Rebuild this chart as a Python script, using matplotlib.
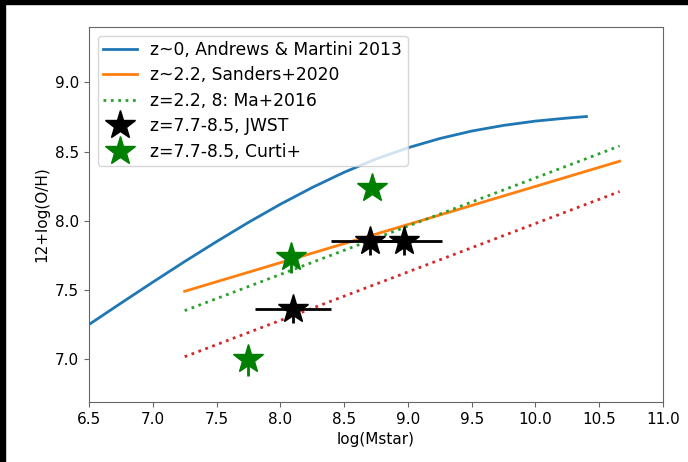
import matplotlib
matplotlib.use("Agg")
import matplotlib.pyplot as plt
from matplotlib.patches import Rectangle

# z~0 Andrews & Martini 2013
am_x = [6.5, 6.75, 7.0, 7.25, 7.5, 7.75, 8.0, 8.25, 8.5, 8.75, 9.0, 9.25, 9.5, 9.75, 10.0, 10.25, 10.4]
am_y = [7.25, 7.404, 7.556, 7.705, 7.849, 7.988, 8.119, 8.240, 8.350, 8.446, 8.527, 8.594, 8.648, 8.689, 8.720, 8.742, 8.753]

# z~2.2 Sanders+2020
san_x = [7.25, 10.66]
san_y = [7.49, 8.43]

# Ma+2016 z=2.2 and z=8
ma_x = [7.25, 10.66]
ma22_y = [7.35, 8.54]
ma8_y = [7.017, 8.211]

# JWST points
jw_x = [8.10, 8.70, 8.97]
jw_y = [7.36, 7.85, 7.85]
jw_xerr = [0.3, 0.3, 0.3]
jw_yerr_lo = [0.1, 0.1, 0.1]
jw_yerr_hi = [0.05, 0.05, 0.05]

# Curti+ points
cu_x = [7.75, 8.08, 8.72]
cu_y = [7.00, 7.74, 8.24]
cu_yerr_lo = [0.12, 0.12, 0.05]
cu_yerr_hi = [0.05, 0.05, 0.05]

plt.rcParams['font.size'] = 11
spine_c = '0.4'
plt.rcParams['axes.edgecolor'] = spine_c
plt.rcParams['xtick.color'] = spine_c
plt.rcParams['ytick.color'] = spine_c
plt.rcParams['xtick.labelcolor'] = 'black'
plt.rcParams['ytick.labelcolor'] = 'black'

fig = plt.figure(figsize=(6.88, 4.62), dpi=100)
ax = fig.add_axes([89/688, 60/462, 574/688, 375/462])

ax.plot(am_x, am_y, color='tab:blue', lw=2, label='z~0, Andrews & Martini 2013')
ax.plot(san_x, san_y, color='tab:orange', lw=2, label='z~2.2, Sanders+2020')
ax.plot(ma_x, ma22_y, color='tab:green', ls=':', lw=2, label='z=2.2, 8: Ma+2016')
ax.plot(ma_x, ma8_y, color='tab:red', ls=':', lw=2)

ax.errorbar(jw_x, jw_y, xerr=jw_xerr, yerr=[jw_yerr_lo, jw_yerr_hi], fmt='none',
            ecolor='black', elinewidth=2)
ax.plot(jw_x, jw_y, '*', color='black', markersize=22, label='z=7.7-8.5, JWST')
ax.errorbar(cu_x, cu_y, yerr=[cu_yerr_lo, cu_yerr_hi], fmt='none', ecolor='green', elinewidth=2)
ax.plot(cu_x, cu_y, '*', color='green', markersize=22, label='z=7.7-8.5, Curti+')

ax.set_xlim(6.5, 11.0)
ax.set_ylim(6.69, 9.40)
ax.set_xticks([6.5, 7.0, 7.5, 8.0, 8.5, 9.0, 9.5, 10.0, 10.5, 11.0])
ax.set_yticks([7.0, 7.5, 8.0, 8.5, 9.0])
ax.set_xlabel('log(Mstar)')
ax.set_ylabel('12+log(O/H)')
ax.legend(loc='upper left', fontsize=12.3, labelspacing=0.44, borderpad=0.3)

fig.patches.append(Rectangle((0, 1 - 4/462), 1, 4/462, transform=fig.transFigure, color='black', zorder=10))
fig.patches.append(Rectangle((0, 0), 5/688, 1, transform=fig.transFigure, color='black', zorder=10))

fig.savefig('out.png', dpi=100)
